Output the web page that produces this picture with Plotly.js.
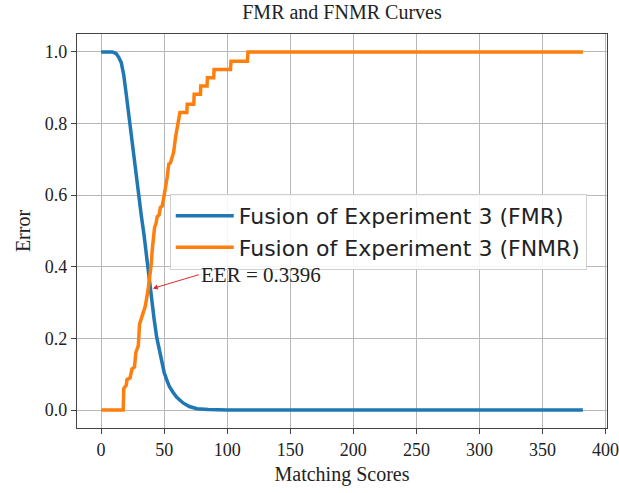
<!DOCTYPE html>
<html>
<head>
<meta charset="utf-8">
<script src="https://cdn.plot.ly/plotly-3.0.1.min.js"></script>
<style>html,body{margin:0;padding:0;background:#fff;}#chart{width:619px;height:493px;}</style>
</head>
<body>
<div id="chart"></div>
<script>
// FMR curve (matching score, error)
const fmrX = [0, 9, 12, 14, 16, 18, 20, 22, 24, 26, 28, 30, 32, 34, 36, 37, 38, 40, 42, 44, 46, 48, 50, 52, 54, 57, 60, 65, 70, 76, 85, 100, 120, 382];
const fmrY = [1.0, 1.0, 0.995, 0.985, 0.97, 0.935, 0.88, 0.82, 0.765, 0.715, 0.66, 0.595, 0.54, 0.49, 0.43, 0.4, 0.36, 0.3, 0.255, 0.205, 0.17, 0.135, 0.105, 0.085, 0.067, 0.05, 0.036, 0.02, 0.01, 0.004, 0.0015, 0.0005, 0, 0];
// FNMR curve (step-like)
const fnmrX = [0, 17.5, 18, 20, 20.5, 23, 24.5, 26.5, 27.5, 29.5, 30.5, 33, 35, 37, 38.7, 39.7, 40.5, 42.4, 43.5, 44.5, 46, 47, 48.5, 49.8, 51, 52.4, 53.7, 55, 56.4, 57.5, 59, 60.4, 61.6, 62.5, 68, 68.3, 73.5, 73.8, 78.8, 79, 84, 84.3, 89.3, 89.6, 102.6, 103, 116, 116.5, 382];
const fnmrY = [0, 0, 0.06, 0.07, 0.085, 0.09, 0.115, 0.12, 0.16, 0.18, 0.24, 0.27, 0.29, 0.33, 0.376, 0.405, 0.445, 0.51, 0.52, 0.54, 0.545, 0.566, 0.57, 0.604, 0.62, 0.65, 0.687, 0.69, 0.705, 0.72, 0.761, 0.789, 0.815, 0.831, 0.831, 0.854, 0.854, 0.882, 0.882, 0.905, 0.905, 0.928, 0.928, 0.951, 0.951, 0.974, 0.974, 1.0, 1.0];
const seriesNames = ["Fusion of Experiment 3 (FMR)", "Fusion of Experiment 3 (FNMR)"];
const eerValue = 0.3396;
const eerX = 41;
const eerLabel = "EER = 0.3396";
const xTicks = [0, 50, 100, 150, 200, 250, 300, 350, 400];
const yTicks = [0.0, 0.2, 0.4, 0.6, 0.8, 1.0];

const serif = "Liberation Serif, DejaVu Serif, serif";
const traces = [
  {x: fmrX, y: fmrY, mode: "lines", name: seriesNames[0], legendgroup: "a", line: {color: "#1f77b4", width: 3.5}},
  {x: fnmrX, y: fnmrY, mode: "lines", name: seriesNames[1], legendgroup: "b", line: {color: "#ff7f0e", width: 3.5}}
];
const axisCommon = {
  showgrid: true, gridcolor: "#b8b8b8", gridwidth: 1, zeroline: false,
  showline: true, linecolor: "#444", linewidth: 1.2, mirror: true,
  ticks: "outside", ticklen: 5, tickcolor: "#444", automargin: false,
  ticklabeloverflow: "allow",
  tickfont: {family: serif, size: 18, color: "#222"}
};
const layout = {
  width: 619, height: 493,
  margin: {l: 77, r: 12, t: 34, b: 65},
  paper_bgcolor: "#fff", plot_bgcolor: "#fff",
  title: {text: "FMR and FNMR Curves", font: {family: serif, size: 20, color: "#222"}, x: 0.5, xref: "paper", y: 0.99, yanchor: "top"},
  xaxis: Object.assign({}, axisCommon, {range: [-19.1, 401.1], tickvals: xTicks, ticktext: xTicks.map(String),
    title: {text: "Matching Scores", font: {family: serif, size: 20, color: "#222"}, standoff: 8}}),
  yaxis: Object.assign({}, axisCommon, {range: [-0.05, 1.05], tickvals: yTicks, ticktext: yTicks.map(v => v.toFixed(1)),
    title: {text: "Error", font: {family: serif, size: 20, color: "#222"}, standoff: 8}}),
  showlegend: true,
  legend: {x: 0.175, y: 0.594, xanchor: "left", yanchor: "top", bgcolor: "rgba(255,255,255,0.85)",
    bordercolor: "#d0d0d0", borderwidth: 1, font: {family: "DejaVu Sans, sans-serif", size: 22, color: "#222"},
    traceorder: "grouped", tracegroupgap: 0, itemwidth: 58},
  annotations: [{
    x: eerX, y: eerValue, xref: "x", yref: "y",
    ax: 77.5, ay: 0.378, axref: "x", ayref: "y",
    text: eerLabel, showarrow: true, arrowhead: 2, arrowsize: 1, arrowwidth: 1, arrowcolor: "#e8262a",
    xanchor: "left", font: {family: serif, size: 21, color: "#222"}, standoff: 0, startstandoff: 0
  }]
};
Plotly.newPlot("chart", traces, layout, {displayModeBar: false, staticPlot: true});
</script>
</body>
</html>
